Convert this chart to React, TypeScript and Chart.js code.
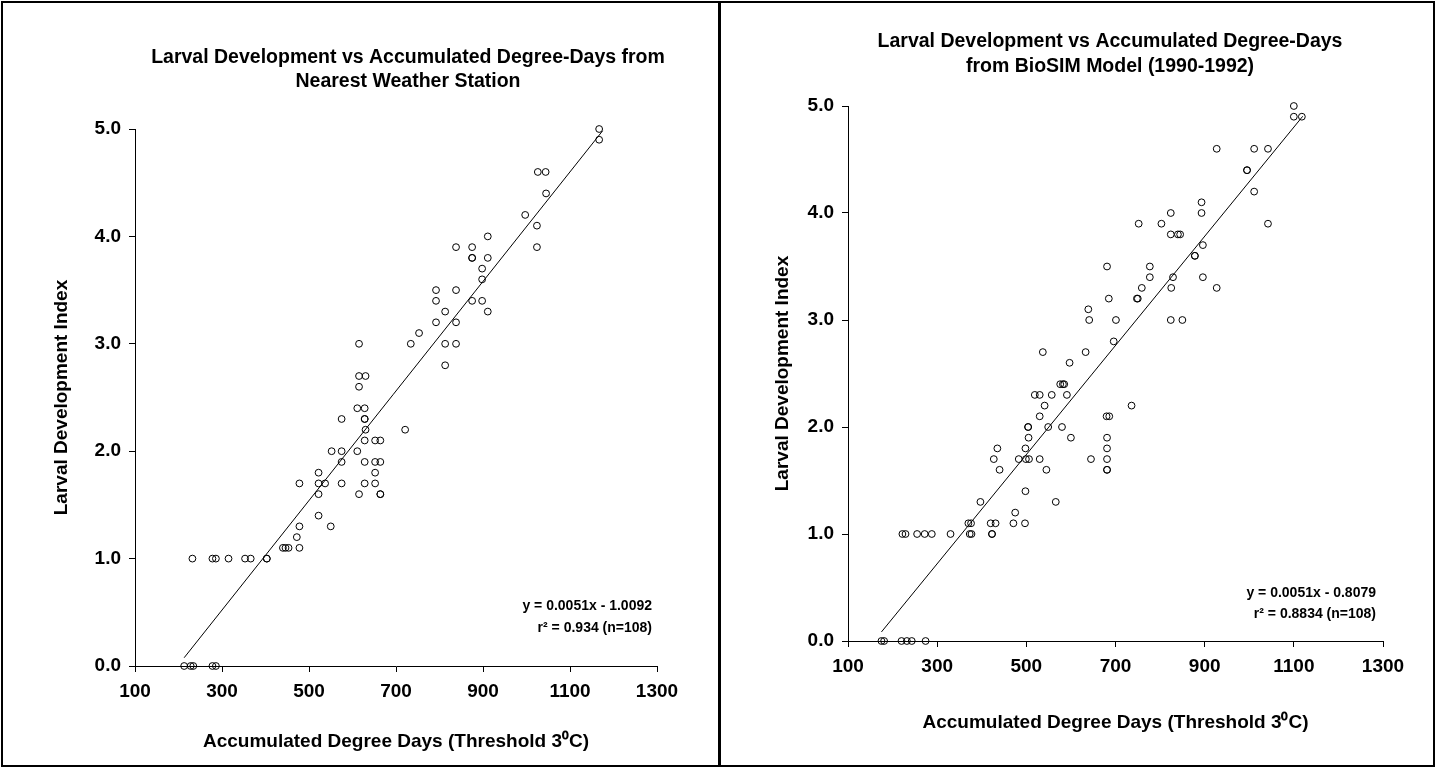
import React, { useEffect, useRef } from "react";
import { Chart, registerables } from "chart.js";

Chart.register(...registerables);

const FONT = 'Arial, "Liberation Sans", Helvetica, sans-serif';

// ---------- shared axis data ----------
const xTickValues = [100, 300, 500, 700, 900, 1100, 1300];
const yTickValues = [0, 1, 2, 3, 4, 5];
const xAxisTitle = "Accumulated Degree Days (Threshold 3\u2070C)";
const yAxisTitle = "Larval Development Index";

// ---------- left panel: nearest weather station ----------
const stationTitle = [
  "Larval Development vs Accumulated Degree-Days from",
  "Nearest Weather Station",
];
const stationDegreeDays = [
  213, 228, 234, 278, 286,
  232, 278, 286, 315, 353, 366, 403, 403,
  440, 446, 453, 478,
  472,
  478, 550,
  522,
  522, 615, 664, 664,
  478, 522, 537, 575, 628, 652,
  522, 652,
  575, 628, 652, 664,
  552, 575, 611,
  628, 652, 664,
  630, 721,
  575, 628, 628,
  611, 628,
  615,
  615, 630,
  813,
  615, 734, 813, 838,
  753,
  792, 838,
  813, 911,
  792, 875, 898,
  792, 838,
  898,
  898,
  875, 875, 911,
  838, 875, 1024,
  911,
  1024,
  997,
  1045,
  1026, 1044,
  1167,
  1167,
];
const stationIndex = [
  0, 0, 0, 0, 0,
  1.0, 1.0, 1.0, 1.0, 1.0, 1.0, 1.0, 1.0,
  1.1, 1.1, 1.1, 1.1,
  1.2,
  1.3, 1.3,
  1.4,
  1.6, 1.6, 1.6, 1.6,
  1.7, 1.7, 1.7, 1.7, 1.7, 1.7,
  1.8, 1.8,
  1.9, 1.9, 1.9, 1.9,
  2.0, 2.0, 2.0,
  2.1, 2.1, 2.1,
  2.2, 2.2,
  2.3, 2.3, 2.3,
  2.4, 2.4,
  2.6,
  2.7, 2.7,
  2.8,
  3.0, 3.0, 3.0, 3.0,
  3.1,
  3.2, 3.2,
  3.3, 3.3,
  3.4, 3.4, 3.4,
  3.5, 3.5,
  3.6,
  3.7,
  3.8, 3.8, 3.8,
  3.9, 3.9, 3.9,
  4.0,
  4.1,
  4.2,
  4.4,
  4.6, 4.6,
  4.9,
  5.0,
];
const stationFitRange = [213, 1175];
const stationSlope = 0.0051;
const stationIntercept = -1.0092;
const stationEquation = ["y = 0.0051x - 1.0092", "r\u00B2 = 0.934 (n=108)"];

// ---------- right panel: BioSIM model ----------
const biosimTitle = [
  "Larval Development vs Accumulated Degree-Days",
  "from BioSIM Model (1990-1992)",
];
const biosimDegreeDays = [
  175, 181, 220, 232, 243, 274,
  222, 229, 255, 272, 288, 330, 373, 377, 423, 423,
  370, 376, 420, 431, 471, 497,
  475,
  397, 566,
  498,
  440, 545, 681, 681,
  427, 483, 499, 506, 530, 645, 681,
  435, 498, 681,
  505, 600, 681,
  504, 504, 549, 580,
  530, 680, 686,
  541, 736,
  519, 530, 557, 591,
  576, 582, 585,
  597,
  537, 633,
  696,
  641, 701, 824, 850,
  639,
  685, 748, 750,
  759, 825, 927,
  777, 829, 896,
  681, 777,
  878, 878,
  896,
  824, 840, 845,
  752, 803, 1042,
  824, 893,
  893,
  1011,
  995, 995,
  927, 1011, 1042,
  1100, 1118,
  1100,
];
const biosimIndex = [
  0, 0, 0, 0, 0, 0,
  1.0, 1.0, 1.0, 1.0, 1.0, 1.0, 1.0, 1.0, 1.0, 1.0,
  1.1, 1.1, 1.1, 1.1, 1.1, 1.1,
  1.2,
  1.3, 1.3,
  1.4,
  1.6, 1.6, 1.6, 1.6,
  1.7, 1.7, 1.7, 1.7, 1.7, 1.7, 1.7,
  1.8, 1.8, 1.8,
  1.9, 1.9, 1.9,
  2.0, 2.0, 2.0, 2.0,
  2.1, 2.1, 2.1,
  2.2, 2.2,
  2.3, 2.3, 2.3, 2.3,
  2.4, 2.4, 2.4,
  2.6,
  2.7, 2.7,
  2.8,
  3.0, 3.0, 3.0, 3.0,
  3.1,
  3.2, 3.2, 3.2,
  3.3, 3.3, 3.3,
  3.4, 3.4, 3.4,
  3.5, 3.5,
  3.6, 3.6,
  3.7,
  3.8, 3.8, 3.8,
  3.9, 3.9, 3.9,
  4.0, 4.0,
  4.1,
  4.2,
  4.4, 4.4,
  4.6, 4.6, 4.6,
  4.9, 4.9,
  5.0,
];
const biosimFitRange = [175, 1120];
const biosimSlope = 0.0051;
const biosimIntercept = -0.8079;
const biosimEquation = ["y = 0.0051x - 0.8079", "r\u00B2 = 0.8834 (n=108)"];

type PanelLayout = {
  width: number;
  height: number;
  plotLeft: number;
  plotRight: number;
  plotTop: number;
  plotBottom: number;
  yTitleOffset: number;
  xTitleOffset: number;
  titleX: number;
  titleY: number[];
  eqRight: number;
  eqY: number[];
};

const TICK_SIZE = 19;
const AXIS_TITLE_SIZE = 19;
const TITLE_SIZE = 19.5;
const EQ_SIZE = 14;

function buildConfig(
  xs: number[],
  ys: number[],
  fitRange: number[],
  slope: number,
  intercept: number,
  title: string[],
  equation: string[],
  L: PanelLayout
): any {
  const tickFont = { family: FONT, size: TICK_SIZE, weight: "bold" as const };
  const axisTitleFont = { family: FONT, size: AXIS_TITLE_SIZE, weight: "bold" as const };
  const textPlugin = {
    id: "panelText",
    afterDraw(chart: any) {
      const ctx = chart.ctx as CanvasRenderingContext2D;
      ctx.save();
      ctx.fillStyle = "#000";
      ctx.font = `bold ${TITLE_SIZE}px ${FONT}`;
      ctx.textAlign = "center";
      ctx.textBaseline = "middle";
      title.forEach((t, i) => ctx.fillText(t, L.titleX, L.titleY[i]));
      ctx.font = `bold ${EQ_SIZE}px ${FONT}`;
      ctx.textAlign = "right";
      equation.forEach((t, i) => ctx.fillText(t, L.eqRight, L.eqY[i]));
      ctx.restore();
    },
  };
  return {
    type: "scatter",
    data: {
      datasets: [
        {
          label: "Observed",
          data: xs.map((x, i) => ({ x, y: ys[i] })),
          pointStyle: "circle",
          pointRadius: 3.4,
          borderColor: "#000",
          backgroundColor: "rgba(0,0,0,0)",
          borderWidth: 1,
          showLine: false,
          clip: false,
        },
        {
          label: "Regression",
          data: fitRange.map((x) => ({ x, y: slope * x + intercept })),
          showLine: true,
          pointRadius: 0,
          borderColor: "#000",
          borderWidth: 1,
          fill: false,
          clip: false,
        },
      ],
    },
    options: {
      animation: false,
      responsive: false,
      devicePixelRatio: 1,
      events: [],
      layout: {
        padding: {
          left: 0,
          top: L.plotTop,
          right: L.width - L.plotRight,
          bottom: 0,
        },
      },
      plugins: {
        legend: { display: false },
        tooltip: { enabled: false },
        title: { display: false },
      },
      scales: {
        x: {
          type: "linear",
          min: 100,
          max: 1300,
          afterBuildTicks: (s: any) => {
            s.ticks = xTickValues.map((v) => ({ value: v }));
          },
          afterFit: (s: any) => {
            s.height = L.height - L.plotBottom;
          },
          ticks: {
            font: tickFont,
            color: "#000",
            padding: 8,
            maxRotation: 0,
            autoSkip: false,
            callback: (v: any) => String(v),
          },
          grid: {
            display: true,
            drawOnChartArea: false,
            drawTicks: true,
            tickLength: 6,
            color: "#000",
            lineWidth: 1,
          },
          border: { display: true, color: "#000", width: 1 },
          title: {
            display: true,
            text: xAxisTitle,
            color: "#000",
            font: axisTitleFont,
            padding: { top: 0, bottom: L.xTitleOffset },
          },
        },
        y: {
          type: "linear",
          min: 0,
          max: 5,
          afterBuildTicks: (s: any) => {
            s.ticks = yTickValues.map((v) => ({ value: v }));
          },
          afterFit: (s: any) => {
            s.width = L.plotLeft;
          },
          ticks: {
            font: tickFont,
            color: "#000",
            padding: 8,
            autoSkip: false,
            callback: (v: any) => Number(v).toFixed(1),
          },
          grid: {
            display: true,
            drawOnChartArea: false,
            drawTicks: true,
            tickLength: 6,
            color: "#000",
            lineWidth: 1,
          },
          border: { display: true, color: "#000", width: 1 },
          title: {
            display: true,
            text: yAxisTitle,
            color: "#000",
            font: axisTitleFont,
            padding: { top: L.yTitleOffset, bottom: 0 },
          },
        },
      },
    },
    plugins: [textPlugin],
  };
}

const leftLayout: PanelLayout = {
  width: 720,
  height: 768,
  plotLeft: 135,
  plotRight: 657,
  plotTop: 129,
  plotBottom: 666,
  yTitleOffset: 50,
  xTitleOffset: 15,
  titleX: 408,
  titleY: [58, 82],
  eqRight: 652,
  eqY: [606, 628],
};

const rightLayout: PanelLayout = {
  width: 717,
  height: 768,
  plotLeft: 128,
  plotRight: 663,
  plotTop: 106,
  plotBottom: 641,
  yTitleOffset: 51,
  xTitleOffset: 34,
  titleX: 390,
  titleY: [42, 67],
  eqRight: 656,
  eqY: [593, 614],
};

export default function App() {
  const leftRef = useRef<HTMLCanvasElement>(null);
  const rightRef = useRef<HTMLCanvasElement>(null);

  useEffect(() => {
    document.body.style.margin = "0";
    const charts: Chart[] = [];
    if (leftRef.current) {
      charts.push(
        new Chart(
          leftRef.current,
          buildConfig(
            stationDegreeDays,
            stationIndex,
            stationFitRange,
            stationSlope,
            stationIntercept,
            stationTitle,
            stationEquation,
            leftLayout
          )
        )
      );
    }
    if (rightRef.current) {
      charts.push(
        new Chart(
          rightRef.current,
          buildConfig(
            biosimDegreeDays,
            biosimIndex,
            biosimFitRange,
            biosimSlope,
            biosimIntercept,
            biosimTitle,
            biosimEquation,
            rightLayout
          )
        )
      );
    }
    return () => charts.forEach((c) => c.destroy());
  }, []);

  return (
    <div
      style={{
        position: "fixed",
        left: 0,
        top: 0,
        width: 1437,
        height: 768,
        background: "#fff",
        overflow: "hidden",
      }}
    >
      <canvas
        ref={leftRef}
        width={720}
        height={768}
        style={{ position: "absolute", left: 0, top: 0, width: 720, height: 768 }}
      />
      <canvas
        ref={rightRef}
        width={717}
        height={768}
        style={{ position: "absolute", left: 720, top: 0, width: 717, height: 768 }}
      />
      <div
        style={{
          position: "absolute",
          left: 1,
          top: 1,
          width: 720,
          height: 766,
          border: "2px solid #000",
          boxSizing: "border-box",
          pointerEvents: "none",
        }}
      />
      <div
        style={{
          position: "absolute",
          left: 718,
          top: 1,
          width: 717,
          height: 766,
          border: "2px solid #000",
          boxSizing: "border-box",
          pointerEvents: "none",
        }}
      />
    </div>
  );
}
